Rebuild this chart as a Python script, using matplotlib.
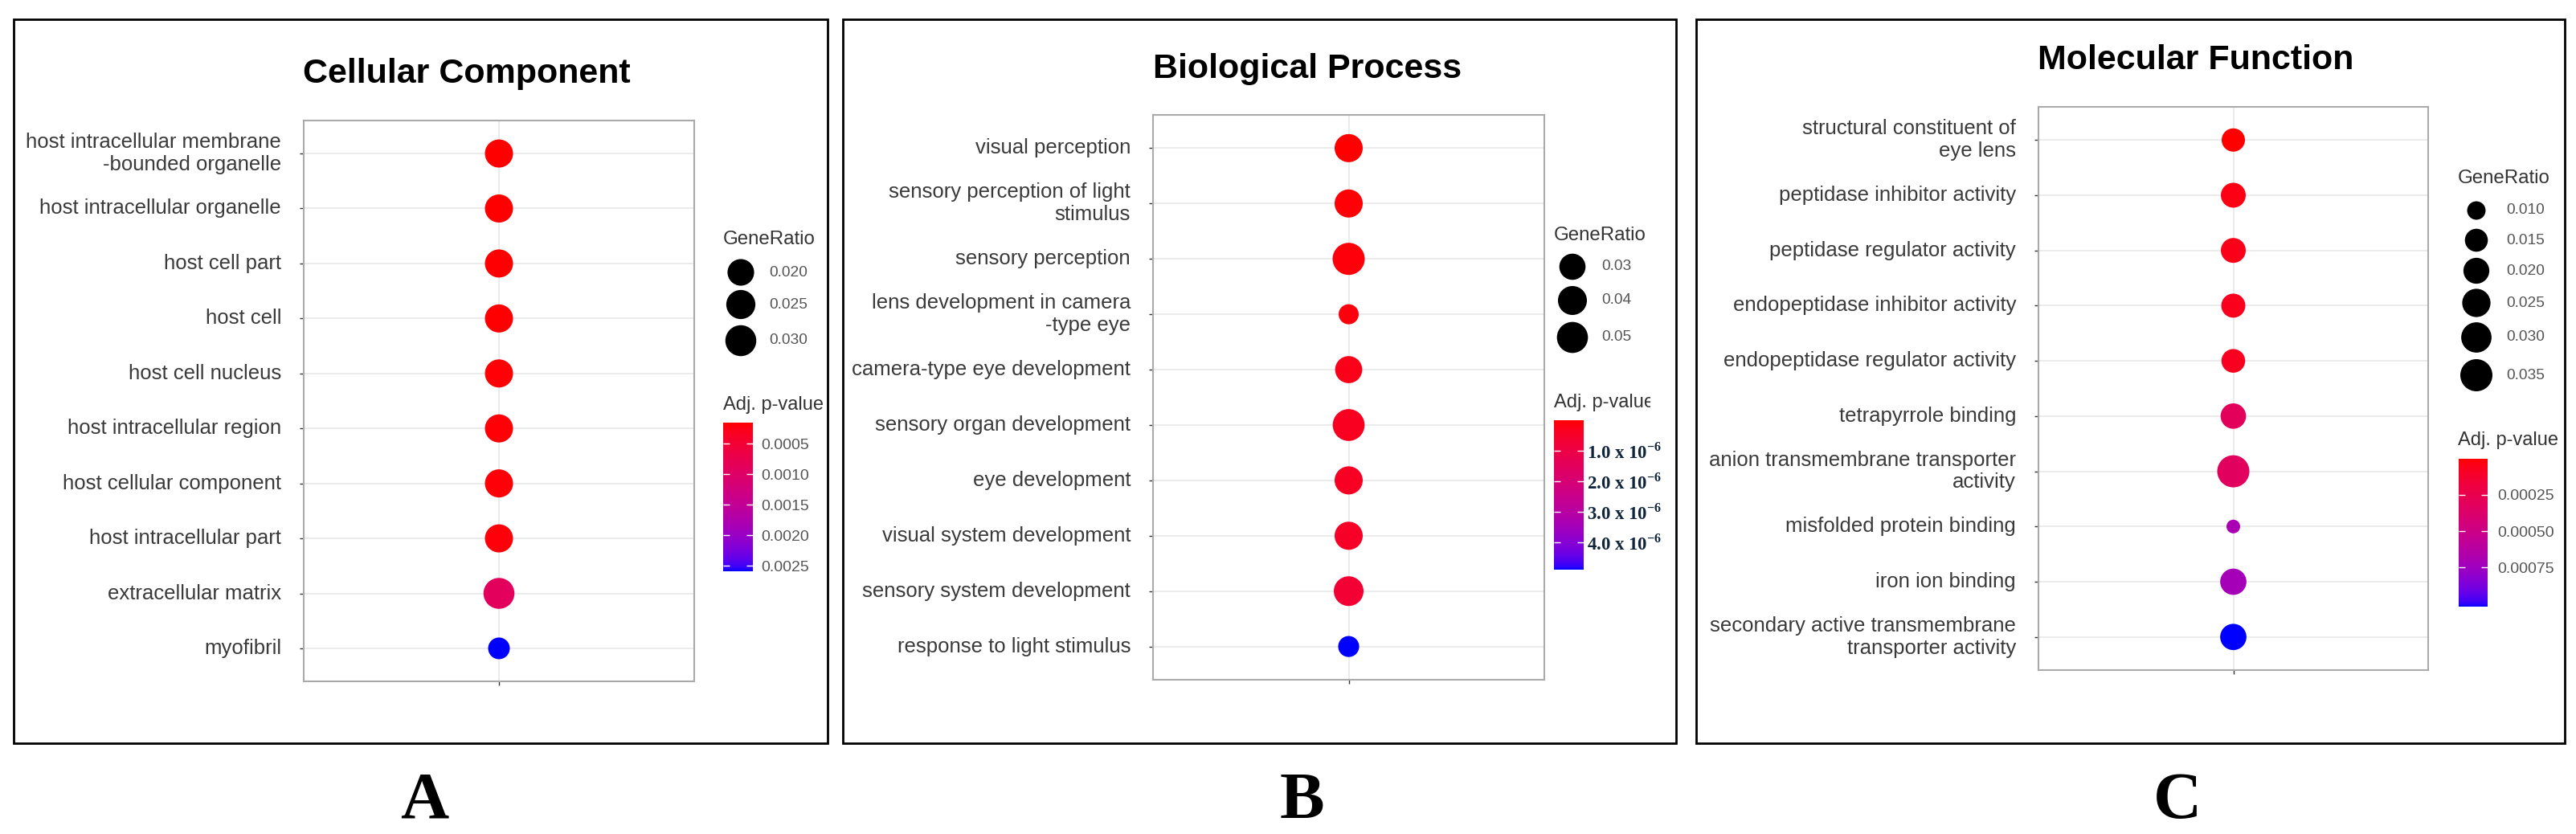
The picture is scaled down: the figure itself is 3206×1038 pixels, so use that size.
import numpy as np
import matplotlib
matplotlib.use("Agg")
import matplotlib.pyplot as plt
from matplotlib.colors import LinearSegmentedColormap, Normalize
from matplotlib.cm import ScalarMappable
from matplotlib.patches import Rectangle
from matplotlib.transforms import Bbox, TransformedBbox

W, H = 3206, 1038

# ---- data: Cellular Component ----
cc_terms = ["host intracellular membrane\n-bounded organelle", "host intracellular organelle",
            "host cell part", "host cell", "host cell nucleus", "host intracellular region",
            "host cellular component", "host intracellular part", "extracellular matrix", "myofibril"]
cc_ratio = [0.0228, 0.0228, 0.0228, 0.0228, 0.0228, 0.0228, 0.0228, 0.0228, 0.0300, 0.0160]
cc_padj = [0.000158, 0.000165, 0.000170, 0.000175, 0.000180, 0.000185, 0.000190, 0.000200, 0.00090, 0.00259]
cc_size_breaks = [0.020, 0.025, 0.030]
cc_size_labels = ["0.020", "0.025", "0.030"]
cc_p_ticks = [0.0005, 0.0010, 0.0015, 0.0020, 0.0025]
cc_p_labels = ["0.0005", "0.0010", "0.0015", "0.0020", "0.0025"]

# ---- data: Biological Process ----
bp_terms = ["visual perception", "sensory perception of light\nstimulus", "sensory perception",
            "lens development in camera\n-type eye", "camera-type eye development",
            "sensory organ development", "eye development", "visual system development",
            "sensory system development", "response to light stimulus"]
bp_ratio = [0.0366, 0.0366, 0.0560, 0.0210, 0.0328, 0.0545, 0.0366, 0.0366, 0.0434, 0.0212]
bp_padj = [2e-9, 5e-8, 8e-8, 1.2e-7, 2.5e-7, 3.5e-7, 4.0e-7, 4.5e-7, 7.0e-7, 4.9e-6]
bp_size_breaks = [0.03, 0.04, 0.05]
bp_size_labels = ["0.03", "0.04", "0.05"]
bp_p_ticks = [1e-6, 2e-6, 3e-6, 4e-6]
bp_p_labels = ["1.0 x 10$^{\\mathregular{-6}}$", "2.0 x 10$^{\\mathregular{-6}}$",
               "3.0 x 10$^{\\mathregular{-6}}$", "4.0 x 10$^{\\mathregular{-6}}$"]

# ---- data: Molecular Function ----
mf_terms = ["structural constituent of\neye lens", "peptidase inhibitor activity",
            "peptidase regulator activity", "endopeptidase inhibitor activity",
            "endopeptidase regulator activity", "tetrapyrrole binding",
            "anion transmembrane transporter\nactivity", "misfolded protein binding",
            "iron ion binding", "secondary active transmembrane\ntransporter activity"]
mf_ratio = [0.0155, 0.0181, 0.0181, 0.0167, 0.0161, 0.0191, 0.0350, 0.0082, 0.0207, 0.0207]
mf_padj = [1e-6, 4e-5, 5e-5, 6e-5, 7e-5, 0.00030, 0.00032, 0.00070, 0.00072, 0.00102]
mf_size_breaks = [0.010, 0.015, 0.020, 0.025, 0.030, 0.035]
mf_size_labels = ["0.010", "0.015", "0.020", "0.025", "0.030", "0.035"]
mf_p_ticks = [0.00025, 0.00050, 0.00075]
mf_p_labels = ["0.00025", "0.00050", "0.00075"]


# red -> blue gradient interpolated in Lab, like ggplot
_M = np.array([[0.4124, 0.3576, 0.1805], [0.2126, 0.7152, 0.0722], [0.0193, 0.1192, 0.9505]])
_WP = np.array([0.95047, 1.0, 1.08883])


def to_lab(rgb):
    c = np.asarray(rgb, float)
    lin = np.where(c <= 0.04045, c / 12.92, ((c + 0.055) / 1.055) ** 2.4)
    xyz = _M @ lin / _WP
    f = np.where(xyz > 0.008856, np.cbrt(xyz), 7.787 * xyz + 16 / 116)
    return np.array([116 * f[1] - 16, 500 * (f[0] - f[1]), 200 * (f[1] - f[2])])


def from_lab(lab):
    fy = (lab[0] + 16) / 116
    f = np.array([fy + lab[1] / 500, fy, fy - lab[2] / 200])
    xyz = np.where(f ** 3 > 0.008856, f ** 3, (f - 16 / 116) / 7.787) * _WP
    lin = np.clip(np.linalg.inv(_M) @ xyz, 0, 1)
    c = np.where(lin <= 0.0031308, 12.92 * lin, 1.055 * lin ** (1 / 2.4) - 0.055)
    return np.clip(c, 0, 1)


lr, lb = to_lab([1, 0, 0]), to_lab([0, 0, 1])
cmap = LinearSegmentedColormap.from_list("rb", [from_lab(lr + t * (lb - lr)) for t in np.linspace(0, 1, 64)])

fig = plt.figure(figsize=(W / 100, H / 100), dpi=100)
ov = fig.add_axes([0, 0, 1, 1])
ov.set_xlim(0, W)
ov.set_ylim(H, 0)
ov.axis("off")

SANS = "Liberation Sans"


def frac(x0, y0, x1, y1):
    return [x0 / W, 1 - y1 / H, (x1 - x0) / W, (y1 - y0) / H]


def diam(v, lo, hi, d0, d1):
    v = np.asarray(v, float)
    return d0 + (d1 - d0) * np.sqrt(np.clip((v - lo) / (hi - lo), 0, 1))


def panel(terms, ratio, padj, breaks, blabels, pticks, plabels, lay):
    n = len(terms)
    lo, hi = min(ratio), max(ratio)
    d0, d1 = lay["drange"]
    norm = Normalize(min(padj), max(padj))

    # outer box, title and letter
    bx = lay["box"]
    ov.add_patch(Rectangle((bx[0], bx[1]), bx[2] - bx[0], bx[3] - bx[1], fill=False,
                           ec="black", lw=2.0))
    ov.text(lay["title"][0], lay["title"][1], lay["name"], ha="center", va="baseline",
            fontsize=31, fontweight="bold", family=SANS, color="black")
    ov.text(lay["letter"][0], lay["letter"][1], lay["tag"], ha="center", va="baseline",
            fontsize=60, fontweight="bold", family="Liberation Serif")

    ax = fig.add_axes(frac(*lay["axes"]))
    y = np.arange(n)
    ax.scatter(np.ones(n), y, s=(diam(ratio, lo, hi, d0, d1) * 0.72) ** 2, c=padj,
               cmap=cmap, norm=norm, linewidths=0, zorder=3)
    ax.set_xlim(0.4, 1.6)
    ax.set_ylim(n - 0.4, -0.6)
    ax.set_xticks([1], [""])
    ax.set_yticks(y, terms, fontsize=18.5, family=SANS, color="#3a3a3a", va="center")
    ax.grid(True, color="#ebebeb", lw=1.4, zorder=0)
    ax.set_axisbelow(True)
    ax.tick_params(length=3.3, width=1.0, color="#333333", pad=16.8)
    for sp in ax.spines.values():
        sp.set_color("#aaaaaa")
        sp.set_linewidth(1.5)

    # size legend
    lg = lay["size_leg"]
    ov.text(lg["title"][0], lg["title"][1], "GeneRatio", ha="left", va="center",
            fontsize=17.3, family=SANS, color="#333333")
    ov.scatter([lg["x"]] * len(breaks), lg["ys"], s=(diam(breaks, lo, hi, d0, d1) * 0.72) ** 2,
               color="black", linewidths=0)
    for yy, lab in zip(lg["ys"], blabels):
        ov.text(lg["lx"], yy, lab, ha="left", va="center", fontsize=13.8, family=SANS,
                color="#555555")

    # colour bar
    cl = lay["cbar"]
    t = ov.text(cl["title"][0], cl["title"][1], "Adj. p-value", ha="left", va="center",
                fontsize=17, family=SANS, color="#333333")
    if "clip" in cl:
        t.set_clip_box(TransformedBbox(Bbox([[cl["title"][0] - 5, cl["title"][1] - 30],
                                              [cl["clip"], cl["title"][1] + 30]]), ov.transData))
        t.set_clip_on(True)
    cax = fig.add_axes(frac(*cl["bar"]))
    cb = fig.colorbar(ScalarMappable(norm=norm, cmap=cmap), cax=cax)
    cax.invert_yaxis()
    cb.outline.set_visible(False)
    cb.set_ticks(pticks, labels=plabels)
    cax.tick_params(direction="in", color="white", length=6, width=1.0, left=True,
                    right=True, pad=cl["pad"])
    for tl in cax.get_yticklabels():
        tl.set_fontsize(cl["fs"])
        tl.set_family(cl["family"])
        tl.set_color(cl["color"])
        tl.set_fontweight(cl.get("weight", "normal"))


cc_lay = dict(name="Cellular Component", tag="A", box=(17, 24, 1030, 925), title=(581, 103),
              letter=(528, 1018), axes=(378, 150, 864, 848), drange=(27, 38.5),
              size_leg=dict(title=(900, 298), x=922, ys=[339, 379, 424], lx=957),
              cbar=dict(title=(900, 504), bar=(900, 526, 937, 711), pad=7.6, fs=14,
                        family=SANS, color="#555555"))
bp_lay = dict(name="Biological Process", tag="B", box=(1049, 24, 2086, 925), title=(1627, 97),
              letter=(1620, 1018), axes=(1435, 143, 1922, 846), drange=(25, 40),
              size_leg=dict(title=(1934, 293), x=1957, ys=[332, 374, 420], lx=1993),
              cbar=dict(title=(1934, 501), bar=(1934, 523, 1971, 709), pad=3, fs=16.5,
                        family="Liberation Serif", color="#10243a", weight="bold", clip=2054))
mf_lay = dict(name="Molecular Function", tag="C", box=(2111, 24, 3192, 925), title=(2733, 86),
              letter=(2710, 1018), axes=(2537, 133, 3022, 834), drange=(17, 40),
              size_leg=dict(title=(3059, 222), x=3082, ys=[262, 299, 337, 377, 420, 467], lx=3119),
              cbar=dict(title=(3059, 548), bar=(3060, 571, 3096, 755), pad=8.5, fs=14,
                        family=SANS, color="#555555"))

panel(cc_terms, cc_ratio, cc_padj, cc_size_breaks, cc_size_labels, cc_p_ticks, cc_p_labels, cc_lay)
panel(bp_terms, bp_ratio, bp_padj, bp_size_breaks, bp_size_labels, bp_p_ticks, bp_p_labels, bp_lay)
panel(mf_terms, mf_ratio, mf_padj, mf_size_breaks, mf_size_labels, mf_p_ticks, mf_p_labels, mf_lay)

fig.savefig("out.png", dpi=100, facecolor="white")
